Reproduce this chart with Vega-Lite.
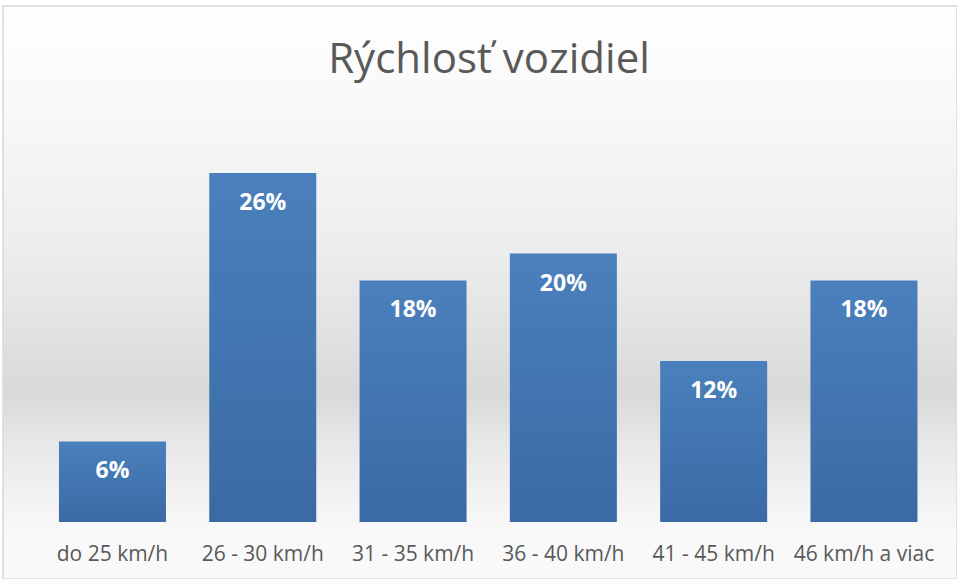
{
  "$schema": "https://vega.github.io/schema/vega-lite/v6.json",
  "width": 954,
  "height": 573,
  "autosize": {"type": "none"},
  "padding": {"left": 3, "top": 6, "right": 0, "bottom": 0},
  "background": "#ffffff",
  "view": {
    "stroke": "#d9d9d9",
    "strokeWidth": 1.5,
    "fill": {
      "gradient": "linear",
      "x1": 0, "y1": 0, "x2": 0, "y2": 1,
      "stops": [
        {"offset": 0, "color": "#ffffff"},
        {"offset": 0.164, "color": "#f9f9f9"},
        {"offset": 0.426, "color": "#ededed"},
        {"offset": 0.679, "color": "#d9d9d9"},
        {"offset": 0.74, "color": "#e4e4e4"},
        {"offset": 0.827, "color": "#efefef"},
        {"offset": 0.914, "color": "#f8f8f8"},
        {"offset": 1, "color": "#fafafa"}
      ]
    }
  },
  "title": {
    "text": "Rýchlosť vozidiel",
    "font": "Open Sans",
    "fontSize": 42,
    "fontWeight": "normal",
    "color": "#595959",
    "anchor": "middle",
    "frame": "group",
    "orient": "top",
    "offset": -69,
    "baseline": "alphabetic",
    "dx": 9,
    "dy": 40
  },
  "data": {
    "values": [
      {"rychlost": "do 25 km/h", "podiel": 0.06},
      {"rychlost": "26 - 30 km/h", "podiel": 0.26},
      {"rychlost": "31 - 35 km/h", "podiel": 0.18},
      {"rychlost": "36 - 40 km/h", "podiel": 0.20},
      {"rychlost": "41 - 45 km/h", "podiel": 0.12},
      {"rychlost": "46 km/h a viac", "podiel": 0.18}
    ]
  },
  "encoding": {
    "x": {
      "field": "rychlost",
      "type": "nominal",
      "sort": null,
      "scale": {"paddingInner": 0.288, "paddingOuter": 0.3177, "align": 0.586},
      "axis": {
        "title": null,
        "orient": "bottom",
        "offset": -19,
        "domain": false,
        "ticks": false,
        "tickSize": 0,
        "labelPadding": 0,
        "labelBaseline": "alphabetic",
        "labelAngle": 0,
        "labelFont": "Open Sans",
        "labelFontSize": 21,
        "labelColor": "#595959",
        "grid": false
      }
    }
  },
  "layer": [
    {
      "mark": {
        "type": "bar",
        "color": {
          "gradient": "linear",
          "x1": 0, "y1": 0, "x2": 0, "y2": 1,
          "stops": [
            {"offset": 0, "color": "#4a80bd"},
            {"offset": 1, "color": "#3a6aa5"}
          ]
        }
      },
      "encoding": {
        "y": {
          "field": "podiel",
          "type": "quantitative",
          "scale": {"domain": [-0.042465, 0.3844], "zero": false, "nice": false},
          "axis": null
        },
        "y2": {"datum": 0}
      }
    },
    {
      "mark": {
        "type": "text",
        "dy": 30,
        "baseline": "middle",
        "align": "center",
        "font": "Open Sans",
        "fontSize": 23,
        "fontWeight": "bold",
        "color": "#ffffff"
      },
      "encoding": {
        "y": {"field": "podiel", "type": "quantitative"},
        "text": {"field": "podiel", "type": "quantitative", "format": ".0%"}
      }
    }
  ]
}
